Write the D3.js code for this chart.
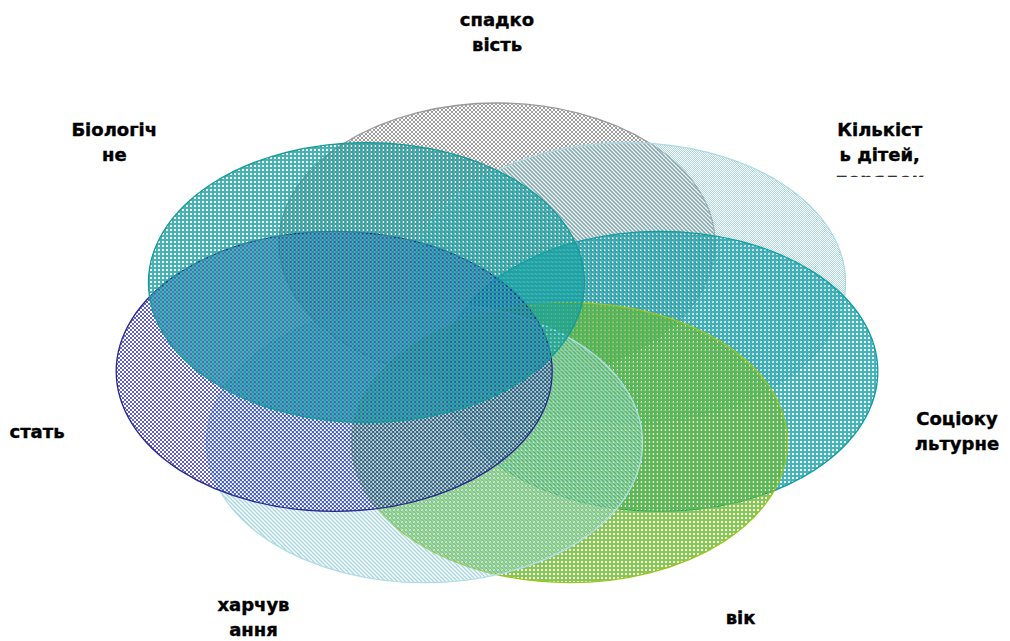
<!DOCTYPE html>
<html lang="uk">
<head>
<meta charset="UTF-8">
<title>Чинники</title>
<script src="https://d3js.org/d3.v7.min.js"></script>
<style>
  body { margin: 0; background: #fff; }
  .label { font-family: "DejaVu Sans", sans-serif; font-weight: bold; font-size: 18px; fill: #000; stroke: #000; stroke-width: 0.4px; }
</style>
</head>
<body>
<svg width="1010" height="641"></svg>
<script>
// one label per ellipse, already split into lines as in the picture
const labels = [
  ["спадко", "вість"],
  ["Кількіст", "ь дітей,", "порядок"],
  ["Соціоку", "льтурне"],
  ["вік"],
  ["харчув", "ання"],
  ["стать"],
  ["Біологіч", "не"]
];
const colors  = ["#858585", "#96cfdc", "#14a2aa", "#66bc26", "#9cd4de", "#3838b8", "#16a0a0"];
const strokes = ["#9a9a9a", "#acd9e3", "#109ca4", "#9cc41c", "#b0dde5", "#28288e", "#149a9a"];
const patterns = ["checker", "fine", "grid", "grid", "hatch", "checker", "grid"];

const svg = d3.select("svg"),
      width = +svg.attr("width"),
      height = +svg.attr("height");

const cx = 497, cy = 348;
const rx = 218, ry = 140;   // every ellipse has the same size

const angle = d3.scaleLinear().domain([0, labels.length]).range([-Math.PI / 2, 1.5 * Math.PI]);
// ellipse centres sit on a flattened heptagon
const x = d3.scaleLinear().domain([-1, 1]).range([cx - 167, cx + 167]);
const y = d3.scaleLinear().domain([-1, 1]).range([cy - 105, cy + 105]);
// labels are pushed outwards from the ring, plus a fixed gap
const lx = d3.scaleLinear().domain([-1, 1]).range([cx - 400, cx + 400]);
const ly = d3.scaleLinear().domain([-1, 0, 1]).range([cy - 293, cy, cy + 274]);
const sgn = v => Math.abs(v) < 1e-6 ? 0 : Math.sign(v);

const items = labels.map((lines, i) => {
  const a = angle(i);
  return {
    i, lines,
    x: x(Math.cos(a)), y: y(Math.sin(a)),
    tx: lx(Math.cos(a)) + sgn(Math.cos(a)) * 70,
    ty: ly(Math.sin(a)) + sgn(Math.sin(a)) * 23
  };
});

const defs = svg.append("defs");

function makePattern(d) {
  const col = colors[d.i];
  const p = defs.append("pattern")
      .attr("id", "pat" + d.i)
      .attr("patternUnits", "userSpaceOnUse")
      .attr("x", Math.round(d.x - rx))
      .attr("y", Math.round(d.y - ry));
  const shape = () => p.append("rect").attr("fill", col).attr("fill-opacity", 0.8);
  switch (patterns[d.i]) {
    case "checker":
      p.attr("width", 4).attr("height", 4);
      shape().attr("x", 0).attr("y", 0).attr("width", 2).attr("height", 2);
      shape().attr("x", 2).attr("y", 2).attr("width", 2).attr("height", 2);
      break;
    case "fine":
      p.attr("width", 2).attr("height", 2);
      shape().attr("x", 0).attr("y", 0).attr("width", 1).attr("height", 1);
      shape().attr("x", 1).attr("y", 1).attr("width", 1).attr("height", 1);
      break;
    case "grid":
      p.attr("width", 4).attr("height", 4);
      shape().attr("x", 0).attr("y", 0).attr("width", 4).attr("height", 2);
      shape().attr("x", 0).attr("y", 2).attr("width", 2).attr("height", 2);
      break;
    case "hatch":
      p.attr("width", 4).attr("height", 4);
      p.append("path")
          .attr("d", "M-1,-1L5,5M-1,3L1,5M3,-1L5,1")
          .attr("stroke", col)
          .attr("stroke-opacity", 0.9)
          .attr("stroke-width", 1.4);
      break;
  }
}
items.forEach(makePattern);

svg.append("g")
    .attr("class", "ellipses")
  .selectAll("ellipse")
  .data(items)
  .enter().append("ellipse")
    .attr("cx", d => d.x)
    .attr("cy", d => d.y)
    .attr("rx", rx)
    .attr("ry", ry)
    .attr("fill", d => `url(#pat${d.i})`)
    .attr("stroke", d => strokes[d.i])
    .attr("stroke-width", 1.3);

// labels: two-line text boxes; anything past the second line is cut off
const lh = 25;
const label = svg.append("g")
    .attr("class", "labels")
  .selectAll("g")
  .data(items)
  .enter().append("g")
    .attr("transform", d => `translate(${d.tx},${d.ty})`);

label.each(function(d) {
  const g = d3.select(this);
  const shown = Math.min(d.lines.length, 2);
  const first = -(shown - 1) / 2 * lh + 6;
  defs.append("clipPath")
      .attr("id", "clip" + d.i)
    .append("rect")
      .attr("x", -120)
      .attr("y", first - 30)
      .attr("width", 240)
      .attr("height", lh + 46);
  g.attr("clip-path", `url(#clip${d.i})`)
    .selectAll("text")
    .data(d.lines)
    .enter().append("text")
      .attr("class", "label")
      .attr("text-anchor", "middle")
      .attr("y", (t, k) => first + k * lh)
      .text(t => t);
});
</script>
</body>
</html>
